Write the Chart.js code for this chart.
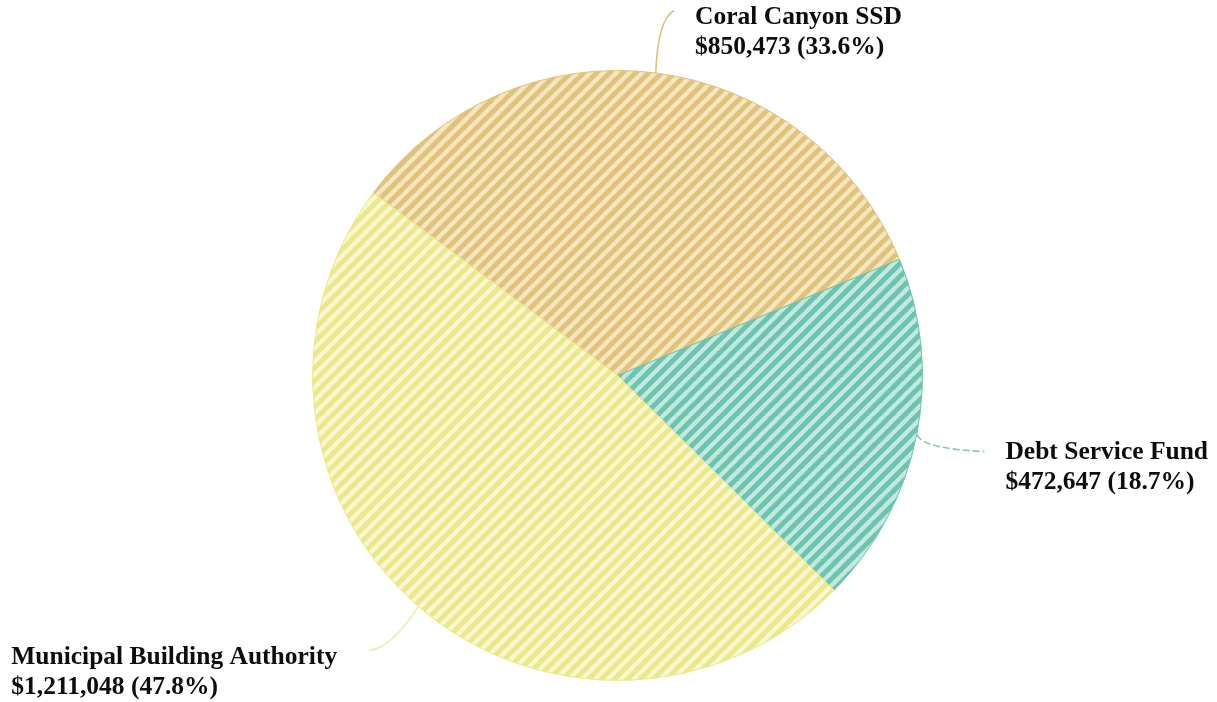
<!DOCTYPE html>
<html lang="en">
<head>
    <meta charset="UTF-8">
    <title>Fund Balances</title>
    <script src="https://cdn.jsdelivr.net/npm/chart.js"></script>
    <style>
        html, body { margin: 0; padding: 0; background: #fff; }
        #wrap { width: 1217px; height: 702px; }
    </style>
</head>
<body>
    <div id="wrap"><canvas id="fundChart" width="1217" height="702"></canvas></div>

    <script>
        // Fund names and amounts
        const funds = ['Coral Canyon SSD', 'Debt Service Fund', 'Municipal Building Authority'];
        const amounts = [850473, 472647, 1211048];
        const percents = [33.6, 18.7, 47.8];

        // base and stripe colours for each slice
        const baseColors = ['#e0c27a', '#6cc4ae', '#ebe88c'];
        const stripeColors = ['#f5e6c2', '#c2e8e0', '#f9f7d0'];
        const lineColors = ['#d8c27c', '#7fcab8', '#eeebb4'];
        const lineDash = [[], [7, 3], []];

        // diagonal striped fill
        function stripes(base, light) {
            const s = 13;
            const c = document.createElement('canvas');
            c.width = s; c.height = s;
            const g = c.getContext('2d');
            g.fillStyle = base;
            g.fillRect(0, 0, s, s);
            g.strokeStyle = light;
            g.lineWidth = 4.4;
            for (const o of [-s, 0, s]) {
                g.beginPath();
                g.moveTo(o - 1, s + 1);
                g.lineTo(o + s + 1, -1);
                g.stroke();
            }
            return g.createPattern(c, 'repeat');
        }

        const ctx = document.getElementById('fundChart').getContext('2d');
        const fills = baseColors.map((b, i) => stripes(b, stripeColors[i]));

        const money = v => '$' + v.toLocaleString('en-US');

        // leader lines and two-line labels outside the pie
        const calloutPlugin = {
            id: 'callouts',
            afterDatasetsDraw(chart, args, opts) {
                const c = chart.ctx;
                const arcs = chart.getDatasetMeta(0).data;
                c.save();
                c.font = 'bold 25.5px "Liberation Serif", "Times New Roman", serif';
                c.fillStyle = '#0d0d0d';
                c.textBaseline = 'middle';
                c.textAlign = 'left';
                arcs.forEach((arc, i) => {
                    const mid = (arc.startAngle + arc.endAngle) / 2;
                    const cx = arc.x, cy = arc.y, r = arc.outerRadius;
                    const sx = cx + Math.cos(mid) * r, sy = cy + Math.sin(mid) * r;
                    const ex = cx + Math.cos(mid) * (r + 66) + opts.shift[i][0];
                    const ey = cy + Math.sin(mid) * (r + 66) + opts.shift[i][1];
                    const right = Math.cos(mid) >= 0;
                    // slight bend toward the label
                    const kx = right ? sx + (ex - sx) * 0.1 : ex + (sx - ex) * 0.45;
                    const ky = right ? ey + (sy - ey) * 0.15 : ey - 2;
                    c.strokeStyle = lineColors[i];
                    c.lineWidth = 1.6;
                    c.setLineDash(lineDash[i]);
                    c.beginPath();
                    c.moveTo(sx, sy);
                    c.quadraticCurveTo(kx, ky, ex, ey);
                    c.stroke();

                    const lines = [funds[i], money(amounts[i]) + ' (' + percents[i].toFixed(1) + '%)'];
                    let w = 0;
                    lines.forEach(t => { w = Math.max(w, c.measureText(t).width); });
                    const x = right ? ex + 21 : ex - 32 - w;
                    const ty = ey + opts.textDy[i];
                    lines.forEach((t, k) => c.fillText(t, x, ty + k * 30));
                });
                c.restore();
            }
        };

        new Chart(ctx, {
            type: 'pie',
            data: {
                labels: funds,
                datasets: [{
                    data: amounts,
                    backgroundColor: fills,
                    borderColor: baseColors,
                    borderWidth: 1
                }]
            },
            options: {
                responsive: false,
                animation: false,
                rotation: 306.8,
                layout: { padding: { left: 312, right: 294, top: 69, bottom: 20 } },
                plugins: {
                    legend: { display: false },
                    tooltip: { enabled: false },
                    callouts: { shift: [[10, 3], [3, 4], [-6, -6]], textDy: [7, 1, 7] }
                }
            },
            plugins: [calloutPlugin]
        });
    </script>
</body>
</html>
